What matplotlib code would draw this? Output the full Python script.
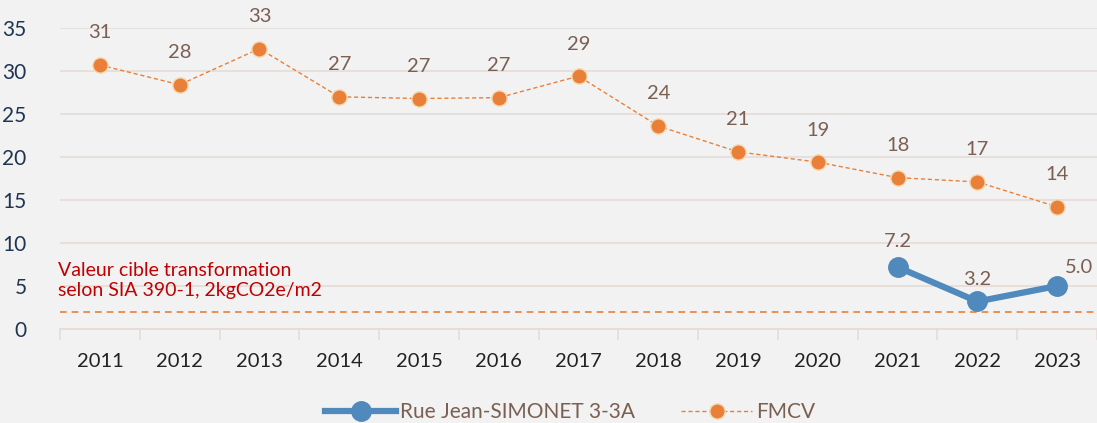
import numpy as np
import matplotlib.pyplot as plt

years = ["2011", "2012", "2013", "2014", "2015", "2016", "2017", "2018", "2019", "2020", "2021", "2022", "2023"]
fmcv = [30.7, 28.4, 32.6, 27.0, 26.8, 26.9, 29.4, 23.6, 20.6, 19.4, 17.6, 17.1, 14.2]
simonet_years = ["2021", "2022", "2023"]
simonet = [7.2, 3.2, 5.0]
target = 2.0

plt.rcParams['font.family'] = ['Lato', 'DejaVu Sans']

bg = '#f2f2f2'
orange = '#e8803a'
blue = '#5089bb'
lbl = '#7a5f52'
tick_col = '#1f3550'

fig = plt.figure(figsize=(10.97, 4.23), dpi=100, facecolor=bg)
ax = fig.add_axes([60/1097, 1-329/423, 1-60/1097, (329-28)/423])
ax.set_facecolor(bg)

x = np.arange(len(years))
xs = np.array([years.index(y) for y in simonet_years])

ax.set_ylim(0, 35)
ax.set_xlim(-0.5, len(years) - 0.5)
ax.set_yticks(range(0, 36, 5))
ax.yaxis.grid(True, color='#e5dcd8', lw=1.2)
ax.set_axisbelow(True)
for s in ['top', 'right', 'left']:
    ax.spines[s].set_visible(False)
ax.spines['bottom'].set_color('#e5dcd8')
ax.spines['bottom'].set_linewidth(1.2)

# target line SIA 390-1
ax.axhline(target, color=orange, lw=1.2, ls=(0, (4, 3)), zorder=2)

ax.plot(x, fmcv, color=orange, lw=1, ls=(0, (3, 2)), marker='o', ms=11,
        markerfacecolor=orange, markeredgecolor='#f5d9b0', markeredgewidth=1,
        label='FMCV', zorder=3)
ax.plot(xs, simonet, color=blue, lw=4.5, marker='o', ms=14,
        markerfacecolor=blue, markeredgecolor=blue,
        label='Rue Jean-SIMONET 3-3A', zorder=4)

for xi, v in zip(x, fmcv):
    ax.annotate(f"{v:.0f}", (xi, v), xytext=(0, 17), textcoords='offset points',
                ha='center', va='bottom', fontsize=14.5, color=lbl)
offs = [(0, 12), (0, 10), (16, 7)]
for xi, v, o in zip(xs, simonet, offs):
    ax.annotate(f"{v:.1f}", (xi, v), xytext=o, textcoords='offset points',
                ha='center', va='bottom', fontsize=14.5, color=lbl)

ax.text(-0.52, 5.6, "Valeur cible transformation\nselon SIA 390-1, 2kgCO2e/m2",
        color='#c00000', fontsize=14, ha='left', va='center', linespacing=1.2)

ax.set_xticks(x)
ax.set_xticklabels(years)
ax.set_xticks(np.arange(-0.5, len(years), 1), minor=True)
ax.tick_params(axis='x', which='major', length=0, pad=17, labelsize=14.5, labelcolor='#222222')
ax.tick_params(axis='x', which='minor', length=8, color='#e5dcd8', width=1.2)
ax.tick_params(axis='y', length=0, labelsize=15, labelcolor=tick_col, pad=24)

h, l = ax.get_legend_handles_labels()
fig.legend(h[::-1], l[::-1], loc='center', bbox_to_anchor=(0.52, 0.025), ncol=2,
           frameon=False, fontsize=15, labelcolor=lbl, handlelength=3.4,
           columnspacing=2.2, handletextpad=0.2)

fig.savefig('out.png', dpi=100, facecolor=bg)
